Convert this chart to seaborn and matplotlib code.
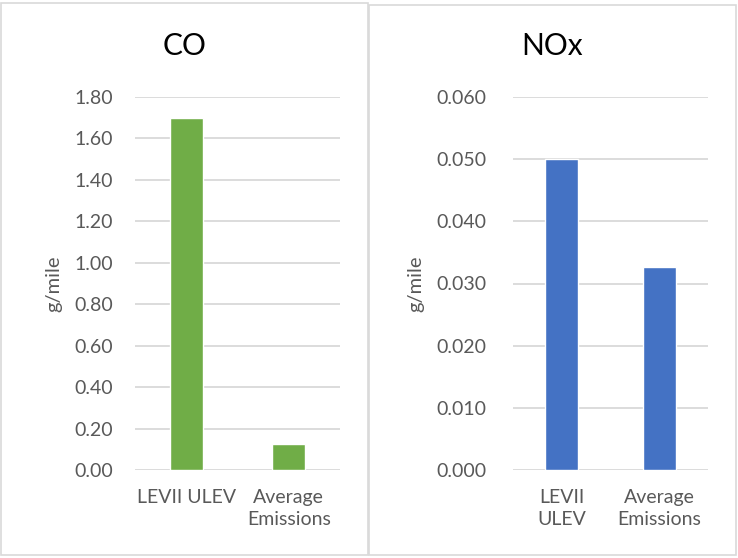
import pandas as pd
import matplotlib
matplotlib.use("Agg")
import matplotlib.pyplot as plt
import seaborn as sns
from matplotlib.patches import Rectangle

sns.set_style("white")
plt.rcParams['font.family'] = ['Lato', 'DejaVu Sans']

# data
co_labels = ["LEVII ULEV", "Average\nEmissions"]
co_values = [1.70, 0.127]
nox_labels = ["LEVII\nULEV", "Average\nEmissions"]
nox_values = [0.050, 0.0327]
co_ticks = [0.0, 0.2, 0.4, 0.6, 0.8, 1.0, 1.2, 1.4, 1.6, 1.8]
nox_ticks = [0.0, 0.01, 0.02, 0.03, 0.04, 0.05, 0.06]

green = "#70AD47"
blue = "#4472C4"
grid_gray = "#D9D9D9"
text_gray = "#595959"

W, H = 738, 558
fig = plt.figure(figsize=(W / 100, H / 100), dpi=100)

# chart-area frames
fig.patches.append(Rectangle((1 / W, 1 - 555 / H), 367 / W, 552 / H, transform=fig.transFigure,
                             fill=False, edgecolor=grid_gray, lw=1.2))
fig.patches.append(Rectangle((369 / W, 1 - 555 / H), 367 / W, 550 / H, transform=fig.transFigure,
                             fill=False, edgecolor=grid_gray, lw=1.2))


def make_panel(left, right, labels, values, ticks, color, fmt, title, title_x, ylab_x, width, ypad):
    ax = fig.add_axes([left / W, 1 - 470 / H, (right - left) / W, 373 / H])
    df = pd.DataFrame({"cat": labels, "val": values})
    sns.barplot(data=df, x="cat", y="val", color=color, saturation=1, width=width, ax=ax)
    ax.set_ylim(ticks[0], ticks[-1])
    ax.set_yticks(ticks)
    ax.set_yticklabels([fmt.format(t) for t in ticks])
    ax.set_axisbelow(True)
    ax.yaxis.grid(True, color=grid_gray, lw=1.3)
    for s in ax.spines.values():
        s.set_visible(False)
    ax.tick_params(axis="y", length=0, pad=ypad, labelsize=14, labelcolor=text_gray)
    ax.tick_params(axis="x", length=0, pad=14, labelsize=14, labelcolor=text_gray)
    for t in ax.get_xticklabels():
        t.set_linespacing(1.3)
    ax.set_xlabel("")
    ax.set_ylabel("g/mile", fontsize=14.5, color=text_gray)
    ax.yaxis.set_label_coords((ylab_x - left) / (right - left), 0.5)
    fig.text(title_x / W, 1 - 55 / H, title, ha="center", va="baseline", fontsize=21.5, color="black")
    return ax


make_panel(135, 340, co_labels, co_values, co_ticks, green, "{:.2f}", "CO", 185, 62, 0.32, 16)
make_panel(513, 708, nox_labels, nox_values, nox_ticks, blue, "{:.3f}", "NOx", 552, 424, 0.34, 19)

fig.savefig("out.png", dpi=100)
